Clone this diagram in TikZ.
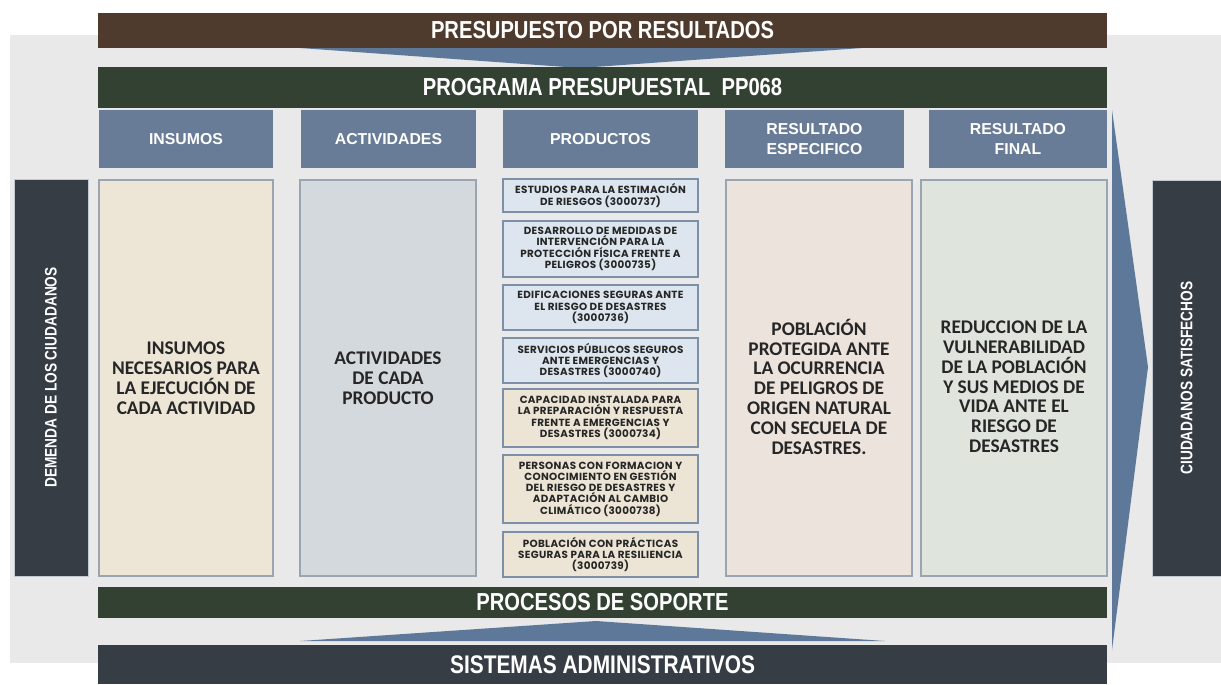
\documentclass[tikz,border=0pt]{standalone}
\usepackage{fontspec}
\setmainfont{Liberation Sans}
\newfontfamily\narrowfont[FakeStretch=0.82]{Liberation Sans}
\newfontfamily\bodyfont{Carlito}
\newfontfamily\prodfont[LetterSpace=3]{Poppins}
\usetikzlibrary{fit}

\definecolor{bgGray}{HTML}{E8E9E8}
\definecolor{barBrown}{HTML}{4F3B2E}
\definecolor{barGreen}{HTML}{324131}
\definecolor{headBlue}{HTML}{687B97}
\definecolor{arrowBlue}{HTML}{5E7899}
\definecolor{darkSlate}{HTML}{363D45}
\definecolor{insumoFill}{HTML}{EDE6D7}
\definecolor{activFill}{HTML}{D4D9DE}
\definecolor{prodBlue}{HTML}{DDE6EE}
\definecolor{prodBeige}{HTML}{ECE5D5}
\definecolor{resEspFill}{HTML}{ECE3DD}
\definecolor{resFinFill}{HTML}{DFE5DC}
\definecolor{boxLine}{HTML}{9AA5B1}
\definecolor{prodLine}{HTML}{7D90A8}

\tikzset{
  titlebar/.style={fill=#1, inner sep=0pt},
  titletext/.style={text=white, inner sep=0pt,
    font=\narrowfont\bfseries\fontsize{14}{16}\selectfont},
  headbox/.style={fill=headBlue, inner sep=0pt},
  headtext/.style={text=white, align=center, inner sep=0pt,
    font=\bfseries\fontsize{9}{11.3}\selectfont},
  colbox/.style={fill=#1, draw=boxLine, line width=0.8pt, inner sep=0pt},
  coltext/.style={align=center, text=black!85, inner sep=0pt,
    font=\bodyfont\bfseries\fontsize{11}{11.3}\selectfont},
  prodbox/.style={fill=#1, draw=prodLine, line width=0.9pt, inner sep=0pt},
  prodtext/.style={align=center, text=black!85, inner sep=0pt,
    font=\prodfont\bfseries\fontsize{5.9}{6.4}\selectfont},
  sidebox/.style={fill=darkSlate, draw=boxLine!60, line width=0.5pt, inner sep=0pt},
  sidetext/.style={rotate=90, text=white,
    font=\narrowfont\bfseries\fontsize{9.5}{11}\selectfont}
}

\begin{document}
\begin{tikzpicture}[x=0.02cm, y=-0.02cm]
	\useasboundingbox (0,0) rectangle (1221,684);
	\fill[bgGray] (10,35) rectangle (1221,663);

	% flechas
	\fill[arrowBlue] (300,48) -- (862,48) -- (580,68) -- cycle;
	\fill[arrowBlue] (300,641) -- (885,641) -- (596,621) -- cycle;
	\fill[arrowBlue] (1112,110) -- (1148,367) -- (1112,650) -- cycle;

	% barras
	\node[titlebar=barBrown, fit={(98,13) (1107,48)}] (ppr) {};
	\node[titletext] (pprTxt) at (ppr) {PRESUPUESTO POR RESULTADOS};
	\node[titlebar=barGreen, fit={(98,67) (1107,108)}] (programa) {};
	\node[titletext] (programaTxt) at (programa) {PROGRAMA PRESUPUESTAL\ \ PP068};
	\node[titlebar=barGreen, fit={(98,587) (1107,618)}] (soporte) {};
	\node[titletext] (soporteTxt) at (soporte) {PROCESOS DE SOPORTE};
	\node[titlebar=darkSlate, fit={(98,645) (1107,684)}] (sistemas) {};
	\node[titletext, font=\narrowfont\bfseries\fontsize{14.5}{16}\selectfont] (sistemasTxt) at (sistemas) {SISTEMAS ADMINISTRATIVOS};

	% cabeceras
	\node[headbox, fit={(99,110) (273,168)}] (hInsumos) {};
	\node[headtext] (hInsumosTxt) at (hInsumos) {INSUMOS};
	\node[headbox, fit={(301,110) (476,168)}] (hActividades) {};
	\node[headtext] (hActividadesTxt) at (hActividades) {ACTIVIDADES};
	\node[headbox, fit={(503,110) (698,168)}] (hProductos) {};
	\node[headtext] (hProductosTxt) at (hProductos) {PRODUCTOS};
	\node[headbox, fit={(725,110) (904,168)}] (hResEsp) {};
	\node[headtext] (hResEspTxt) at (hResEsp) {RESULTADO\\ESPECIFICO};
	\node[headbox, fit={(929,110) (1107,168)}] (hResFin) {};
	\node[headtext] (hResFinTxt) at (hResFin) {RESULTADO\\FINAL};

	% columnas
	\node[colbox=insumoFill, fit={(99,180) (273,576)}] (insumos) {};
	\node[coltext] (insumosTxt) at (insumos)
		{INSUMOS\\NECESARIOS PARA\\LA EJECUCIÓN DE\\CADA ACTIVIDAD};
	\node[colbox=activFill, fit={(300,180) (476,576)}] (actividades) {};
	\node[coltext] (actividadesTxt) at (actividades)
		{ACTIVIDADES\\DE CADA\\PRODUCTO};
	\node[colbox=resEspFill, fit={(726,180) (912,576)}] (resEsp) {};
	\node[coltext, yshift=-5pt] (resEspTxt) at (resEsp)
		{POBLACIÓN\\PROTEGIDA ANTE\\LA OCURRENCIA\\DE PELIGROS DE\\ORIGEN NATURAL\\CON SECUELA DE\\DESASTRES.};
	\node[colbox=resFinFill, fit={(921,180) (1107,576)}] (resFin) {};
	\node[coltext, yshift=-5pt] (resFinTxt) at (resFin)
		{REDUCCION DE LA\\VULNERABILIDAD\\DE LA POBLACIÓN\\Y SUS MEDIOS DE\\VIDA ANTE EL\\RIESGO DE\\DESASTRES};

	% productos
	\node[prodbox=prodBlue, fit={(503,179) (698,212)}] (prod1) {};
	\node[prodtext] (prod1Txt) at (prod1)
		{ESTUDIOS PARA LA ESTIMACIÓN\\DE RIESGOS (3000737)};
	\node[prodbox=prodBlue, fit={(503,221) (698,277)}] (prod2) {};
	\node[prodtext] (prod2Txt) at (prod2)
		{DESARROLLO DE MEDIDAS DE\\INTERVENCIÓN PARA LA\\PROTECCIÓN FÍSICA FRENTE A\\PELIGROS (3000735)};
	\node[prodbox=prodBlue, fit={(503,285) (698,330)}] (prod3) {};
	\node[prodtext] (prod3Txt) at (prod3)
		{EDIFICACIONES SEGURAS ANTE\\EL RIESGO DE DESASTRES\\(3000736)};
	\node[prodbox=prodBlue, fit={(503,338) (698,383)}] (prod4) {};
	\node[prodtext] (prod4Txt) at (prod4)
		{SERVICIOS PÚBLICOS SEGUROS\\ANTE EMERGENCIAS Y\\DESASTRES (3000740)};
	\node[prodbox=prodBeige, fit={(503,389) (698,447)}] (prod5) {};
	\node[prodtext] (prod5Txt) at (prod5)
		{CAPACIDAD INSTALADA PARA\\LA PREPARACIÓN Y RESPUESTA\\FRENTE A EMERGENCIAS Y\\DESASTRES (3000734)};
	\node[prodbox=prodBeige, fit={(503,455) (698,523)}] (prod6) {};
	\node[prodtext] (prod6Txt) at (prod6)
		{PERSONAS CON FORMACION Y\\CONOCIMIENTO EN GESTIÓN\\DEL RIESGO DE DESASTRES Y\\ADAPTACIÓN AL CAMBIO\\CLIMÁTICO (3000738)};
	\node[prodbox=prodBeige, fit={(503,532) (698,577)}] (prod7) {};
	\node[prodtext] (prod7Txt) at (prod7)
		{POBLACIÓN CON PRÁCTICAS\\SEGURAS PARA LA RESILIENCIA\\(3000739)};

	% laterales
	\node[sidebox, fit={(14,179) (88,576)}] (demanda) {};
	\node[sidetext] (demandaTxt) at (demanda) {DEMENDA DE LOS CIUDADANOS};
	\node[sidebox, fit={(1152,180) (1221,576)}] (satisfechos) {};
	\node[sidetext] (satisfechosTxt) at (satisfechos) {CIUDADANOS SATISFECHOS};
\end{tikzpicture}
\end{document}
